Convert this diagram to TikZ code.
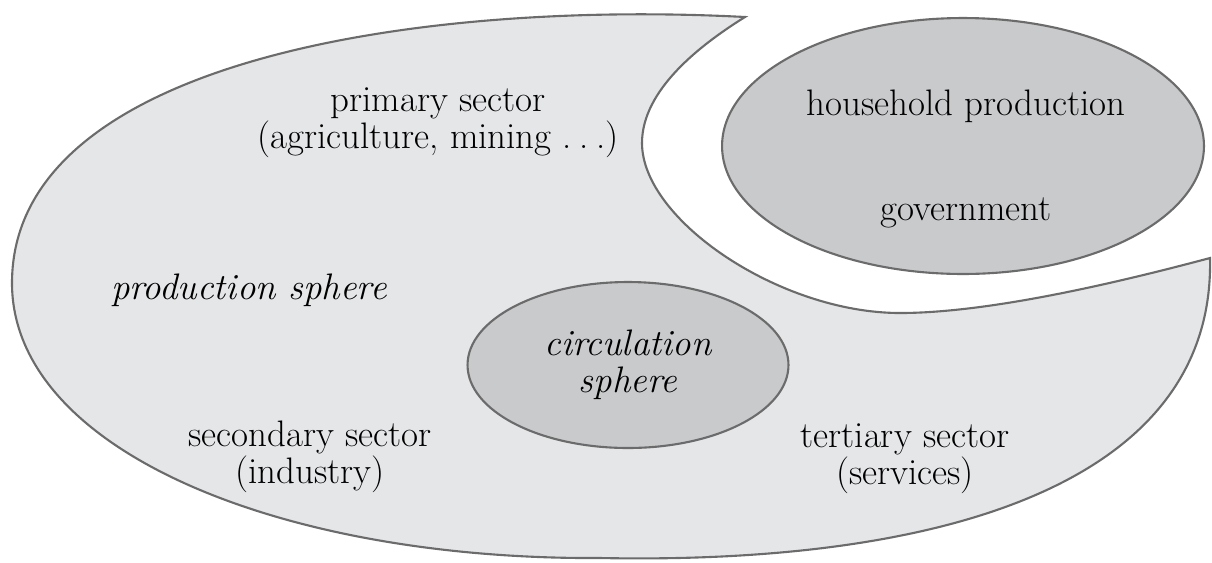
\documentclass[tikz,border=0pt]{standalone}
\usetikzlibrary{shapes.geometric}
\definecolor{outerfill}{HTML}{E5E6E8}
\definecolor{innerfill}{HTML}{C9CACC}
\definecolor{edge}{HTML}{6B6B6B}
\begin{document}
\begin{tikzpicture}[x=0.02cm,y=-0.02cm,
  lbl/.style={inner sep=0pt,align=center,font=\fontsize{21}{21}\selectfont},
  ilbl/.style={lbl,font=\fontsize{21}{21}\selectfont\itshape},
  region/.style={draw=edge,line width=1.2pt},
  blob/.style={region,fill=innerfill,ellipse,inner sep=0pt}]
\useasboundingbox (0,0) rectangle (1212,562);
% production sphere (crescent-shaped region)
\coordinate (T) at (745,17);
\coordinate (L) at (12,283);
\coordinate (B) at (600,558);
\coordinate (R) at (1210,258);
\coordinate (M) at (900,313);
\coordinate (P) at (642,143);
\filldraw[region,fill=outerfill,line join=miter]
  (T) .. controls (420,0) and (12,60) .. (L)
      .. controls (12,450) and (280,560) .. (B)
      .. controls (950,565) and (1215,480) .. (R)
      .. controls (1120,282) and (990,313) .. (M)
      .. controls (780,313) and (642,220) .. (P)
      .. controls (642,90) and (700,45) .. (T) -- cycle;
% household production / government
\node[blob,minimum width=9.64cm,minimum height=5.12cm] (house) at (963,146) {};
\node[lbl] (household) at (966,106) {household production};
\node[lbl] (gov) at (966,213) {government};
% circulation sphere
\node[blob,minimum width=6.42cm,minimum height=3.32cm,align=center,font=\fontsize{21}{21}\selectfont\itshape] (circ) at (628,365) {circulation\\sphere};
% labels
\node[lbl] (primary) at (438,123) {primary sector\\(agriculture, mining .\hspace{0.2em}.\hspace{0.2em}.)};
\node[ilbl] (prodsphere) at (249,290) {production sphere};
\node[lbl] (secondary) at (310,457) {secondary sector\\(industry)};
\node[lbl] (tertiary) at (905,459) {tertiary sector\\(services)};
\end{tikzpicture}
\end{document}
